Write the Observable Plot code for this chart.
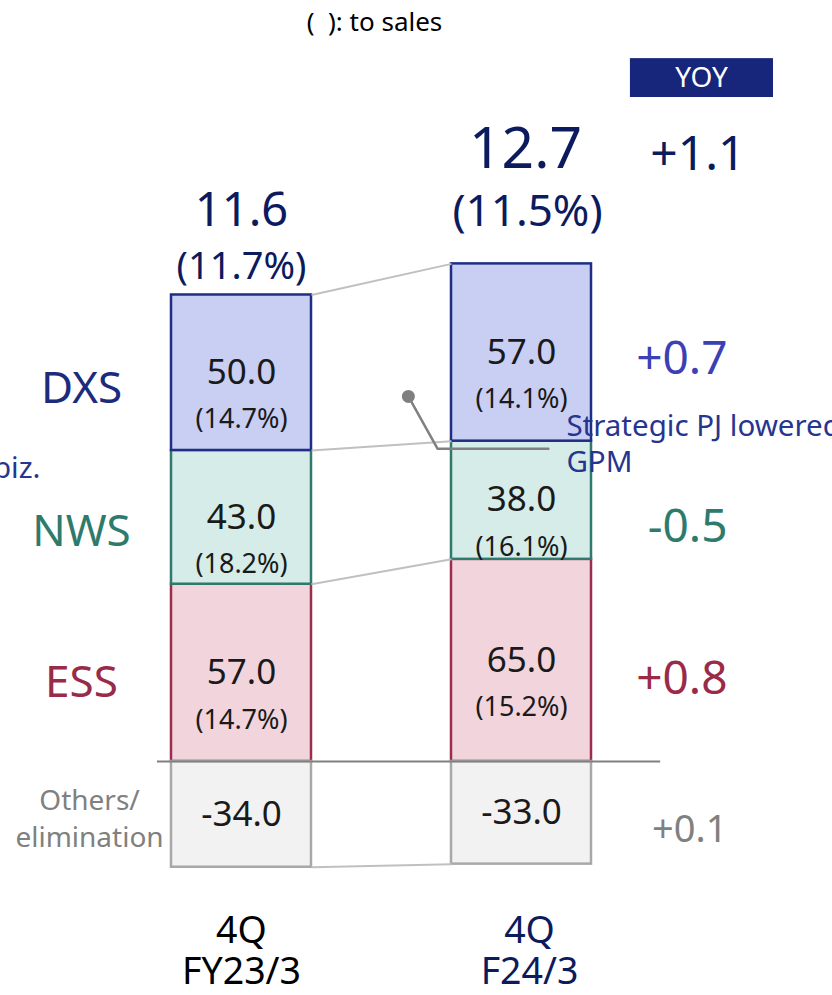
<!DOCTYPE html>
<html>
<head>
<meta charset="utf-8">
<script src="https://cdn.jsdelivr.net/npm/d3@7"></script>
<script src="https://cdn.jsdelivr.net/npm/@observablehq/plot@0.6"></script>
<style>
  html, body { margin: 0; padding: 0; background: #fff; overflow: hidden; }
  #chart svg { display: block; }
</style>
</head>
<body>
<div id="chart"></div>
<script>
// ---------- data ----------
const periods = ["4Q\nFY23/3", "4Q\nF24/3"];
const segments = ["ESS", "NWS", "DXS", "Others/\nelimination"];
const essProfit = [57.0, 65.0];
const nwsProfit = [43.0, 38.0];
const dxsProfit = [50.0, 57.0];
const othersProfit = [-34.0, -33.0];
const essMargin = ["(14.7%)", "(15.2%)"];
const nwsMargin = ["(18.2%)", "(16.1%)"];
const dxsMargin = ["(14.7%)", "(14.1%)"];
const totalProfit = ["11.6", "12.7"];
const totalMargin = ["(11.7%)", "(11.5%)"];
const yoySegment = ["+0.8", "-0.5", "+0.7", "+0.1"]; // ESS, NWS, DXS, Others
const yoyTotal = "+1.1";
const yoyHeader = "YOY";
const subtitle = "(  ): to sales";
const noteText = "Strategic PJ lowered\nGPM";
const leftNote = "biz.";

// ---------- styles / layout ----------
const HALF = 0.25; // half bar width in band units
const fills = {"ESS": "#f2d4dc", "NWS": "#d5ece8", "DXS": "#c9cef3", "Others/\nelimination": "#f2f2f2"};
const strokes = {"ESS": "#9b2d4d", "NWS": "#2f7a6c", "DXS": "#1f2d84", "Others/\nelimination": "#a8a8a8"};
const labelColors = {"ESS": "#9a2b48", "NWS": "#2e7a6c", "DXS": "#1d2b7c", "Others/\nelimination": "#808080"};
const yoyColors = {"ESS": "#9a2b48", "NWS": "#2e7a6c", "DXS": "#3b41b5", "Others/\nelimination": "#808080"};
const leftDy = {"ESS": 6, "NWS": 10, "DXS": 12, "Others/\nelimination": 2};
const yoyDy = {"ESS": 6, "NWS": 10, "DXS": -13, "Others/\nelimination": 15};
const periodDx = [0, 8];
const periodFill = ["#000000", "#0c1a5e"];
const navy = "#0c1a5e";

// ---------- derived table ----------
const series = [essProfit, nwsProfit, dxsProfit, othersProfit];
const margins = [essMargin, nwsMargin, dxsMargin, null];
const rows = [];
periods.forEach((p, i) => {
  let pos = 0, neg = 0;
  segments.forEach((s, k) => {
    const v = series[k][i];
    let y1, y2;
    if (v >= 0) { y1 = pos; y2 = pos + v; pos = y2; }
    else { y1 = neg; y2 = neg + v; neg = y2; }
    rows.push({i, period: p, seg: s, v, y1, y2, mid: (y1 + y2) / 2, pct: margins[k] ? margins[k][i] : null});
  });
});
const find = (i, s) => rows.find(r => r.i === i && r.seg === s);
const tops = periods.map((p, i) => d3.sum(rows.filter(r => r.i === i && r.v > 0), r => r.v));

// connector lines between the bars
const connectors = [
  {a: find(0, "DXS").y2, b: find(1, "DXS").y2},
  {a: find(0, "DXS").y1, b: find(1, "DXS").y1},
  {a: find(0, "NWS").y1, b: find(1, "NWS").y1},
  {a: find(0, "Others/\nelimination").y2, b: find(1, "Others/\nelimination").y2}
];

// callout (annotation) path in chart units
const callout = [{x: 0.596, y: 117.4}, {x: 0.70, y: 100.6}, {x: 1.096, y: 100.6}];

const marks = [];

// bars
marks.push(Plot.rect(rows, {
  x1: d => d.i - HALF, x2: d => d.i + HALF, y1: "y1", y2: "y2",
  fill: d => fills[d.seg], stroke: d => strokes[d.seg], strokeWidth: 2.5
}));

// connectors
marks.push(Plot.link(connectors, {
  x1: d => HALF, x2: d => 1 - HALF, y1: "a", y2: "b",
  stroke: "#c0c0c0", strokeWidth: 2
}));

// baseline
marks.push(Plot.ruleY([0], {x1: -0.3, x2: 1.497, stroke: "#808080", strokeWidth: 2}));

// values in segments
marks.push(Plot.text(rows, {
  x: "i", y: "mid", text: d => d.v.toFixed(1), fontSize: 35, fill: "#1a1a1a", lineAnchor: "middle"
}));
marks.push(Plot.text(rows.filter(d => d.pct), {
  x: "i", y: "mid", dy: 47, text: "pct", fontSize: 27, fill: "#1a1a1a", lineAnchor: "middle"
}));

// totals
marks.push(Plot.text([0], {x: d => 0, y: d => tops[0], dy: -84, text: d => totalProfit[0], fontSize: 47, fill: navy, lineAnchor: "middle"}));
marks.push(Plot.text([0], {x: d => 0, y: d => tops[0], dy: -28, text: d => totalMargin[0], fontSize: 38, fill: navy, lineAnchor: "middle"}));
marks.push(Plot.text([1], {x: d => 1, y: d => tops[1], dx: 4, dy: -114, text: d => totalProfit[1], fontSize: 57, fill: navy, lineAnchor: "middle"}));
marks.push(Plot.text([1], {x: d => 1, y: d => tops[1], dx: 6, dy: -52, text: d => totalMargin[1], fontSize: 44, fill: navy, lineAnchor: "middle"}));

// segment names (left) and YOY deltas (right)
segments.forEach((s, k) => {
  const r = find(0, s);
  const isOthers = s.startsWith("Others");
  marks.push(Plot.text([r], {
    x: "i", y: "mid", dx: isOthers ? -152 : -160, dy: leftDy[s],
    text: d => d.seg, fill: labelColors[s], fontSize: isOthers ? 28 : 44,
    lineHeight: 1.32, lineAnchor: "middle"
  }));
  marks.push(Plot.text([r], {
    x: d => 1, y: "mid", dx: 206, dy: yoyDy[s], textAnchor: "end",
    text: d => yoySegment[k], fill: yoyColors[s], fontSize: isOthers ? 38 : 46, lineAnchor: "middle"
  }));
});

// YOY header + total delta
marks.push(Plot.rect([yoyHeader], {x1: d => 1.389, x2: d => 1.9, y1: d => 213.5, y2: d => 226.0, fill: "#17267a"}));
marks.push(Plot.text([yoyHeader], {x: d => 1.643, y: d => 219.9, text: d => d, fill: "#ffffff", fontSize: 28, lineAnchor: "middle"}));
marks.push(Plot.text([yoyTotal], {x: d => 1, y: d => tops[1], dx: 224, dy: -109, textAnchor: "end", text: d => d, fill: navy, fontSize: 48, lineAnchor: "middle"}));

// callout
marks.push(Plot.line(callout, {x: "x", y: "y", stroke: "#808080", strokeWidth: 2.5}));
marks.push(Plot.dot([callout[0]], {x: "x", y: "y", r: 6.5, fill: "#808080"}));
marks.push(Plot.text([callout[2]], {
  x: "x", y: "y", dx: 18, dy: -6, text: d => noteText, textAnchor: "start",
  fill: "#26358f", fontSize: 29.5, lineHeight: 1.22, lineAnchor: "middle"
}));
marks.push(Plot.text([find(0, "DXS")], {
  x: "i", y: "y1", dx: -201, dy: 18, text: d => leftNote, textAnchor: "end",
  fill: "#26358f", fontSize: 29.5, lineAnchor: "middle"
}));

// period labels
periods.forEach((p, i) => {
  marks.push(Plot.text([p], {
    x: d => i, frameAnchor: "bottom", dx: periodDx[i], dy: -45.5,
    text: d => d, fill: periodFill[i],
    fontSize: 37.5, lineHeight: 1.1, lineAnchor: "middle"
  }));
});

// subtitle
marks.push(Plot.text([subtitle], {
  frameAnchor: "top", dx: -42, dy: 22, text: d => d, fill: "#000000", fontSize: 26, lineAnchor: "middle"
}));

const chart = Plot.plot({
  width: 832,
  height: 995,
  margin: 0,
  x: {type: "linear", domain: [-0.8607, 2.1107], axis: null},
  y: {domain: [-75.24, 244.69], axis: null},
  style: {fontFamily: "'Noto Sans', sans-serif", background: "#ffffff", overflow: "hidden"},
  marks
});
document.getElementById("chart").appendChild(chart);
</script>
</body>
</html>
